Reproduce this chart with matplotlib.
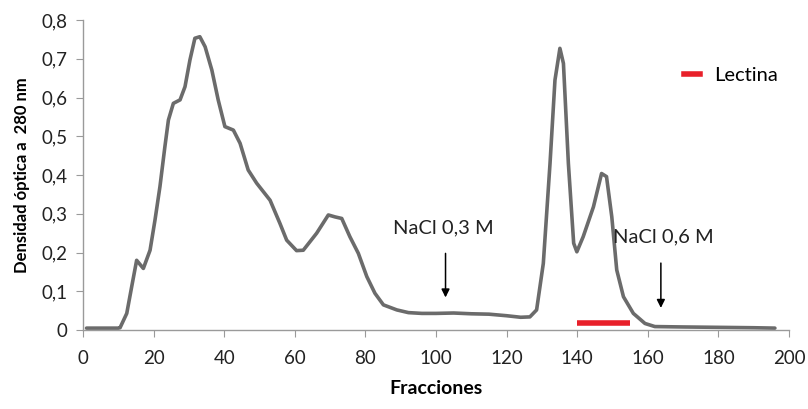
import matplotlib.pyplot as plt
from matplotlib.lines import Line2D

# Elution profile
fracciones = [1, 5, 10, 10.5, 12.4, 13.8, 15.2, 17.1, 19.0, 20.4, 21.8, 23.2, 24.2,
              25.6, 27.5, 28.9, 30.3, 31.7, 33.1, 34.6, 36.5, 38.3, 40.2, 42.6, 44.5,
              46.8, 49.2, 53.0, 55.8, 57.7, 60.5, 62.4, 66.2, 69.5, 71.4, 73.3, 75.6,
              78.0, 80.4, 82.7, 85.1, 88.9, 92.2, 96, 100, 105, 110, 115, 120, 124,
              126.6, 128.5, 130.4, 132.3, 133.7, 135.1, 136.1, 137.5, 139.0, 139.9,
              141.7, 144.6, 146.9, 148.3, 149.8, 151.2, 153.1, 155.9, 159.2, 162,
              170, 180, 190, 196]
densidad = [0.005, 0.005, 0.005, 0.006, 0.043, 0.112, 0.18, 0.159, 0.206, 0.284, 0.37,
            0.473, 0.542, 0.585, 0.594, 0.628, 0.697, 0.753, 0.757, 0.731, 0.671,
            0.594, 0.525, 0.516, 0.482, 0.413, 0.379, 0.335, 0.275, 0.232, 0.205,
            0.206, 0.25, 0.297, 0.292, 0.288, 0.241, 0.198, 0.138, 0.095, 0.065,
            0.052, 0.045, 0.043, 0.043, 0.044, 0.042, 0.041, 0.037, 0.033, 0.034,
            0.052, 0.172, 0.43, 0.645, 0.727, 0.688, 0.43, 0.224, 0.202, 0.241,
            0.318, 0.404, 0.396, 0.292, 0.155, 0.086, 0.043, 0.017, 0.009, 0.008,
            0.007, 0.006, 0.005]

# Lectin-containing fractions
lectina_inicio, lectina_fin, lectina_nivel = 140, 155, 0.017

# Salt steps
nacl_fracciones = [102.7, 163.7]
nacl_textos = ['NaCl 0,3 M', 'NaCl 0,6 M']
nacl_texto_x = [102, 164.5]
nacl_texto_y = [0.263, 0.24]
nacl_flecha_inicio = [0.205, 0.18]
nacl_flecha_fin = [0.077, 0.05]

xticks = list(range(0, 201, 20))
yticks = [0, 0.1, 0.2, 0.3, 0.4, 0.5, 0.6, 0.7, 0.8]

plt.rcParams['font.family'] = ['Lato', 'DejaVu Sans']

fig = plt.figure(figsize=(8.08, 4.09), dpi=100)
ax = fig.add_axes([0.1027, 0.193, 0.8738, 0.758])

ax.plot(fracciones, densidad, color='#6b6b6b', lw=2.6, solid_joinstyle='round',
        solid_capstyle='round')
ax.plot([lectina_inicio, lectina_fin], [lectina_nivel, lectina_nivel],
        color='#e8202a', lw=4, solid_capstyle='butt')

for fx, txt, tx, ty, y0, y1 in zip(nacl_fracciones, nacl_textos, nacl_texto_x,
                                   nacl_texto_y, nacl_flecha_inicio, nacl_flecha_fin):
    ax.annotate('', xy=(fx, y1), xytext=(fx, y0),
                arrowprops=dict(arrowstyle='-|>', color='black', lw=1.1,
                                mutation_scale=12))
    ax.text(tx, ty, txt, ha='center', va='center', fontsize=14.5, color='#222222')

handle = Line2D([], [], color='#e8202a', lw=4)
ax.legend([handle], ['Lectina'], loc='center left', bbox_to_anchor=(0.825, 0.82),
          frameon=False, fontsize=14.5, handlelength=0.8, handletextpad=0.7)

ax.set_xlim(0, 200)
ax.set_ylim(0, 0.8)
ax.set_xticks(xticks)
ax.set_yticks(yticks)
ax.set_yticklabels(['0' if v == 0 else f'{v:.1f}'.replace('.', ',') for v in yticks])
ax.tick_params(axis='both', direction='out', length=5, color='#9a9a9a',
               labelsize=13.5, labelcolor='#222222', pad=6)
ax.tick_params(axis='x', pad=9)

for side in ['top', 'right']:
    ax.spines[side].set_visible(False)
for side in ['left', 'bottom']:
    ax.spines[side].set_color('#9a9a9a')
    ax.spines[side].set_linewidth(1)

ax.set_xlabel('Fracciones', fontsize=14, fontweight='bold', labelpad=10)
ax.set_ylabel('Densidad óptica a  280 nm', fontsize=12, fontweight='bold', labelpad=8)

fig.savefig('out.png', dpi=100)
